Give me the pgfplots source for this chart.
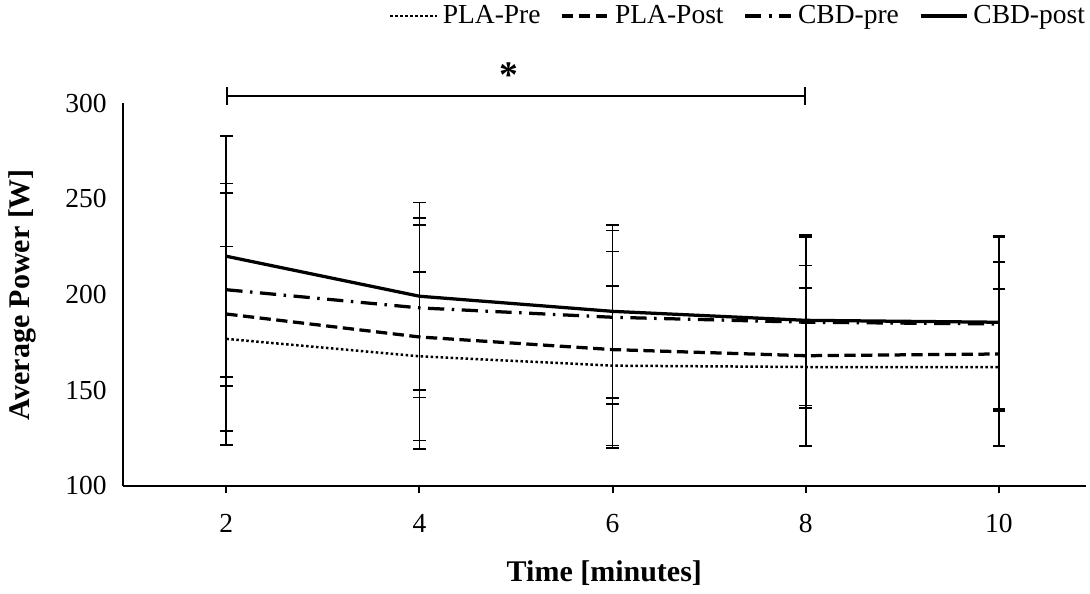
\documentclass[border=0pt]{standalone}
\usepackage{pgfplots}
\pgfplotsset{compat=1.18}
\usepackage{fontspec}
\setmainfont{Liberation Serif}

\begin{document}
\begin{tikzpicture}
\begin{axis}[
    scale only axis,
    width=385pt, height=153pt,
    xmin=0.93, xmax=10.9,
    ymin=100, ymax=300,
    axis x line*=bottom,
    axis y line*=left,
    axis line style={line width=1pt},
    xtick={2,4,6,8,10},
    ytick={100,150,200,250,300},
    x tick style={line width=0.8pt, black},
    xtick align=outside,
    major tick length=3pt,
    y tick style={draw=none},
    font=\fontsize{11}{13}\selectfont,
    /pgf/number format/assume math mode=true,
    yticklabel style={xshift=-3pt},
    xticklabel style={yshift=-5pt},
    xlabel={\textbf{Time [minutes]}},
    ylabel={\textbf{Average Power [W]}},
    label style={font=\fontsize{12}{14}\selectfont},
    xlabel style={yshift=-4pt},
    ylabel style={yshift=5pt},
    clip=false,
    legend columns=4,
    legend style={draw=none, at={(1.005,1.185)}, anchor=south east,
        font=\fontsize{11}{13}\selectfont, inner sep=0pt,
        /tikz/every even column/.append style={column sep=6pt}},
    legend cell align=left,
    legend image code/.code={\draw[#1] (0cm,0cm) -- (0.65cm,0cm);},
    error bars/y dir=both,
    error bars/y explicit,
    error bars/error bar style={line width=0.7pt, black, solid},
    error bars/error mark options={rotate=90, mark size=2.5pt, line width=0.7pt, black, solid},
]
\addplot[black, line width=1pt, densely dotted] coordinates {
    (2,176.8) +- (0,48.3)
    (4,167.7) +- (0,44.0)
    (6,162.8) +- (0,41.8)
    (8,162.1) +- (0,41.3)
    (10,162.0) +- (0,40.9)
};
\addlegendentry{PLA-Pre}
\addplot[black, line width=1.3pt, dash pattern=on 4.5pt off 2.2pt] coordinates {
    (2,189.8) +- (0,68.3)
    (4,177.8) +- (0,58.5)
    (6,171.2) +- (0,51.3)
    (8,168.0) +- (0,47.2)
    (10,168.9) +- (0,48.2)
};
\addlegendentry{PLA-Post}
\addplot[black, line width=1.3pt, dash pattern=on 6.5pt off 3pt on 1pt off 3pt] coordinates {
    (2,202.5) +- (0,50.5)
    (4,193.0) +- (0,46.9)
    (6,188.1) +- (0,45.4)
    (8,185.5) +- (0,44.7)
    (10,184.6) +- (0,45.4)
};
\addlegendentry{CBD-pre}
\addplot[black, line width=1.3pt] coordinates {
    (2,220.0) +- (0,63.0)
    (4,199.1) +- (0,49.0)
    (6,191.2) +- (0,45.3)
    (8,186.5) +- (0,44.5)
    (10,185.5) +- (0,45.3)
};
\addlegendentry{CBD-post}
\draw[|-|, line width=0.8pt, black] (axis cs:2,303.7) -- (axis cs:8,303.7);
\node[font=\fontsize{15}{15}\selectfont\bfseries] at (axis cs:4.93,314.5) {*};
\end{axis}
\end{tikzpicture}
\end{document}
